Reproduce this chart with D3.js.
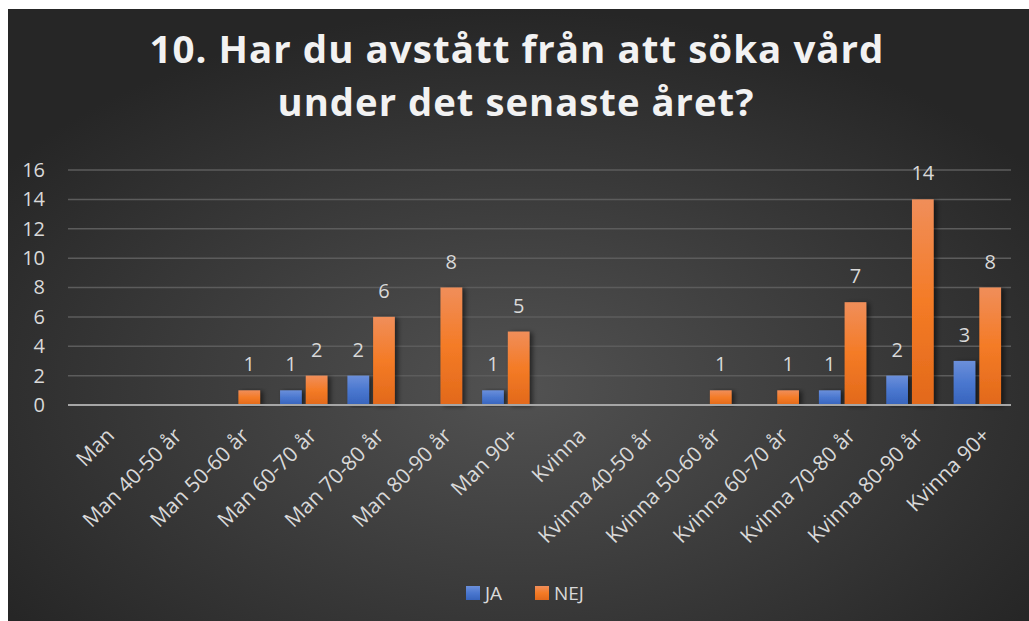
<!DOCTYPE html>
<html>
<head>
<meta charset="utf-8">
<script src="https://cdn.jsdelivr.net/npm/d3@7"></script>
<style>
  body { margin: 0; background: #ffffff; }
  svg { display: block; font-family: "Open Sans", "Noto Sans", sans-serif; }
</style>
</head>
<body>
<svg></svg>
<script>
var svg = d3.select("svg")
            .attr("width", 1029)
            .attr("height", 621);

// chart data
var categories = ["Man", "Man 40-50 år", "Man 50-60 år", "Man 60-70 år", "Man 70-80 år", "Man 80-90 år", "Man 90+",
                  "Kvinna", "Kvinna 40-50 år", "Kvinna 50-60 år", "Kvinna 60-70 år", "Kvinna 70-80 år", "Kvinna 80-90 år", "Kvinna 90+"];
var jaValues  = [null, null, null, 1, 2, null, 1, null, null, null, null, 1, 2, 3];
var nejValues = [null, null, 1, 2, 6, 8, 5, null, null, 1, 1, 7, 14, 8];
var seriesNames = ["JA", "NEJ"];
var yTicks = [0, 2, 4, 6, 8, 10, 12, 14, 16];
var titleLines = ["10. Har du avstått från att söka vård", "under det senaste året?"];

var margin = {top: 170, right: 18, bottom: 216, left: 68},
    width = 1029 - margin.left - margin.right,
    height = 621 - margin.top - margin.bottom;

var defs = svg.append("defs");

// background radial gradient
var bg = defs.append("radialGradient").attr("id", "bgGrad")
    .attr("cx", "50%").attr("cy", "62%").attr("r", "62%");
bg.append("stop").attr("offset", "0%").attr("stop-color", "#525252");
bg.append("stop").attr("offset", "100%").attr("stop-color", "#262626");

// bar gradients
var blueGrad = defs.append("linearGradient").attr("id", "blueGrad")
    .attr("x1", 0).attr("y1", 0).attr("x2", 0).attr("y2", 1);
blueGrad.append("stop").attr("offset", "0%").attr("stop-color", "#6b8fda");
blueGrad.append("stop").attr("offset", "50%").attr("stop-color", "#4a77cf");
blueGrad.append("stop").attr("offset", "100%").attr("stop-color", "#3764bd");

var orangeGrad = defs.append("linearGradient").attr("id", "orangeGrad")
    .attr("x1", 0).attr("y1", 0).attr("x2", 0).attr("y2", 1);
orangeGrad.append("stop").attr("offset", "0%").attr("stop-color", "#f08e5a");
orangeGrad.append("stop").attr("offset", "50%").attr("stop-color", "#f47b26");
orangeGrad.append("stop").attr("offset", "100%").attr("stop-color", "#e2691b");

var shadow = defs.append("filter").attr("id", "barShadow")
    .attr("x", "-50%").attr("y", "-10%").attr("width", "200%").attr("height", "120%");
shadow.append("feDropShadow").attr("dx", 3).attr("dy", 1).attr("stdDeviation", 2.5)
    .attr("flood-color", "#000").attr("flood-opacity", 0.55);

svg.append("rect")
    .attr("x", 8).attr("y", 9)
    .attr("width", 1029 - 8).attr("height", 621 - 9)
    .style("fill", "url(#bgGrad)");

//title
svg.append("text")
    .attr("x", 517).attr("y", 63)
    .attr("text-anchor", "middle")
    .style("font-size", "38px").style("font-weight", "bold")
    .style("letter-spacing", "1px")
    .style("fill", "#f2f2f2")
    .attr("textLength", 735).attr("lengthAdjust", "spacingAndGlyphs")
    .text(titleLines[0]);
svg.append("text")
    .attr("x", 516).attr("y", 116)
    .attr("text-anchor", "middle")
    .style("font-size", "38px").style("font-weight", "bold")
    .style("letter-spacing", "1px")
    .style("fill", "#f2f2f2")
    .attr("textLength", 477).attr("lengthAdjust", "spacingAndGlyphs")
    .text(titleLines[1]);

var g = svg.append("g").attr("transform", "translate(" + margin.left + "," + margin.top + ")");

//scales
var x0 = d3.scaleBand().domain(categories).range([0, width]).paddingInner(0).paddingOuter(0);
var y = d3.scaleLinear().domain([0, 16]).range([height, 0]);
var barW = 21.7, barOffset = 12.85;

//gridlines
g.selectAll(".grid")
    .data(yTicks.slice(1))
    .enter().append("line")
    .attr("class", "grid")
    .attr("x1", 0).attr("x2", width)
    .attr("y1", function(d) { return y(d); })
    .attr("y2", function(d) { return y(d); })
    .style("stroke", "#5c5c5c").style("stroke-width", 1.5);

//y axis labels
var yAxis = g.append("g")
    .call(d3.axisLeft(y).tickValues(yTicks).tickSize(0).tickPadding(23));
yAxis.select(".domain").remove();
yAxis.selectAll("text")
    .style("font-size", "20px").style("fill", "#d9d9d9")
    .style("font-family", "'Open Sans', sans-serif");

//bars
var series = [
  {name: seriesNames[0], values: jaValues, fill: "url(#blueGrad)", off: -barOffset},
  {name: seriesNames[1], values: nejValues, fill: "url(#orangeGrad)", off: barOffset}
];

series.forEach(function(s) {
    var pts = categories.map(function(c, i) { return {cat: c, v: s.values[i]}; })
        .filter(function(d) { return d.v !== null; });
    g.selectAll(".bar-" + s.name)
        .data(pts)
        .enter().append("rect")
        .attr("x", function(d) { return x0(d.cat) + x0.bandwidth() / 2 + s.off - barW / 2; })
        .attr("y", function(d) { return y(d.v); })
        .attr("width", barW)
        .attr("height", function(d) { return height - y(d.v); })
        .style("fill", s.fill)
        .attr("filter", "url(#barShadow)");
    g.selectAll(".lbl-" + s.name)
        .data(pts)
        .enter().append("text")
        .attr("x", function(d) { return x0(d.cat) + x0.bandwidth() / 2 + s.off; })
        .attr("y", function(d) { return y(d.v) - 19; })
        .attr("text-anchor", "middle")
        .style("font-size", "20px").style("fill", "#d9d9d9")
        .text(function(d) { return d.v; });
});

//x axis line
g.append("line")
    .attr("x1", 0).attr("x2", width)
    .attr("y1", height).attr("y2", height)
    .style("stroke", "#a6a6a6").style("stroke-width", 2);

//x labels
g.selectAll(".xlbl")
    .data(categories)
    .enter().append("text")
    .attr("class", "xlbl")
    .attr("text-anchor", "end")
    .attr("transform", function(d) {
        return "translate(" + (x0(d) + x0.bandwidth() / 2 + 14) + "," + (height + 32) + ") rotate(-45)";
    })
    .style("font-size", "21px").style("fill", "#d9d9d9")
    .text(function(d) { return d; });

//legend
var legend = svg.append("g").attr("transform", "translate(466,586)");
var legItems = [{name: seriesNames[0], fill: "url(#blueGrad)", x: 0}, {name: seriesNames[1], fill: "url(#orangeGrad)", x: 69}];
legItems.forEach(function(l) {
    legend.append("rect").attr("x", l.x).attr("y", 0).attr("width", 14).attr("height", 14).style("fill", l.fill);
    legend.append("text").attr("x", l.x + 19).attr("y", 14)
        .style("font-size", "19px").style("fill", "#d9d9d9").text(l.name);
});
</script>
</body>
</html>
